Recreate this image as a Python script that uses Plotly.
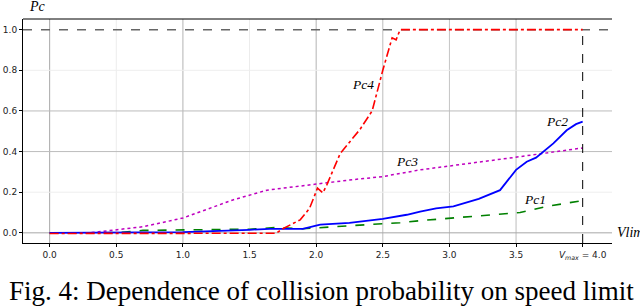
import plotly.graph_objects as go

# ---- data ----
pc1_x = [0, 0.5, 0.7, 1.0, 1.3, 1.5, 1.7, 1.9, 2.13, 2.38, 2.63, 2.78, 3.03, 3.28, 3.53, 3.73, 4.0]
pc1_y = [0, 0.001, 0.012, 0.014, 0.015, 0.018, 0.026, 0.02, 0.03, 0.04, 0.05, 0.06, 0.073, 0.084, 0.1, 0.13, 0.159]

pc2_x = [0, 1.0, 1.5, 1.65, 1.9, 2.03, 2.25, 2.5, 2.68, 2.78, 2.9, 3.03, 3.22, 3.38, 3.5, 3.58, 3.65, 3.78, 3.88, 3.95, 4.0]
pc2_y = [0, 0.004, 0.015, 0.02, 0.02, 0.04, 0.049, 0.069, 0.089, 0.105, 0.12, 0.13, 0.167, 0.21, 0.31, 0.35, 0.37, 0.44, 0.505, 0.535, 0.547]

pc3_x = [0, 0.3, 0.38, 0.5, 0.7, 1.0, 1.13, 1.28, 1.375, 1.63, 1.88, 2.0, 2.25, 2.5, 2.78, 3.02, 3.53, 4.0]
pc3_y = [0, 0.0, 0.006, 0.015, 0.03, 0.073, 0.105, 0.138, 0.162, 0.21, 0.228, 0.24, 0.26, 0.277, 0.31, 0.33, 0.375, 0.418]

pc4_x = [0, 1.0, 1.5, 1.7, 1.75, 1.88, 1.95, 2.01, 2.05, 2.08, 2.18, 2.33, 2.42, 2.5, 2.57, 2.6, 2.63, 4.0]
pc4_y = [-0.003, -0.003, -0.004, -0.002, 0.02, 0.064, 0.12, 0.22, 0.197, 0.236, 0.39, 0.51, 0.6, 0.8, 0.96, 0.95, 1.0, 1.0]

x_ticks = [0.0, 0.5, 1.0, 1.5, 2.0, 2.5, 3.0, 3.5, 4.0]
x_ticklabels = ["0.0", "0.5", "1.0", "1.5", "2.0", "2.5", "3.0", "3.5", "<i>V<sub>max</sub></i> = 4.0"]
y_ticks = [0.0, 0.2, 0.4, 0.6, 0.8, 1.0]
y_ticklabels = ["0.0", "0.2", "0.4", "0.6", "0.8", "1.0"]
x_grid_colors = ["#a8a8a8", "#ececec", "#b4b4b4", "#ececec", "#b4b4b4", "#bcbcbc", "#c4c4c4", "#bcbcbc"]
y_grid_colors = ["#a8a8a8", "#eeeeee", "#bcbcbc", "#bcbcbc", "#eeeeee"]

series_labels = [("<i>Pc1</i>", 3.64, 0.165), ("<i>Pc2</i>", 3.81, 0.55), ("<i>Pc3</i>", 2.68, 0.35), ("<i>Pc4</i>", 2.35, 0.73)]

fig = go.Figure()

# gridlines
for xv, c in zip(x_ticks[:-1], x_grid_colors):
    fig.add_shape(type="line", xref="x", yref="paper", x0=xv, x1=xv, y0=0, y1=1,
                  line=dict(color=c, width=1), layer="below")
for yv, c in zip(y_ticks[:-1], y_grid_colors):
    fig.add_shape(type="line", xref="paper", yref="y", x0=0, x1=1, y0=yv, y1=yv,
                  line=dict(color=c, width=1), layer="below")

fig.add_trace(go.Scatter(x=pc1_x, y=pc1_y, mode="lines", line=dict(color="#008000", width=1.6, dash="dash")))
fig.add_trace(go.Scatter(x=pc3_x, y=pc3_y, mode="lines", line=dict(color="#bf00bf", width=1.5, dash="dot")))
fig.add_trace(go.Scatter(x=pc2_x, y=pc2_y, mode="lines", line=dict(color="#0000ff", width=1.8)))
fig.add_trace(go.Scatter(x=pc4_x, y=pc4_y, mode="lines", line=dict(color="#ff0000", width=1.6, dash="dashdot")))

# reference lines
fig.add_shape(type="line", xref="paper", yref="y", x0=0, x1=1, y0=1.0, y1=1.0,
              line=dict(color="#666666", width=1.5, dash="dash"), layer="below")
fig.add_shape(type="line", xref="x", yref="y", x0=4.0, x1=4.0, y0=-0.05, y1=1.0,
              line=dict(color="black", width=1, dash="dash"))
# top spine
fig.add_shape(type="line", xref="paper", yref="paper", x0=0, x1=1, y0=1, y1=1, line=dict(color="black", width=1))

for txt, xv, yv in series_labels:
    fig.add_annotation(x=xv, y=yv, text=txt, showarrow=False, xanchor="center", yanchor="middle",
                       font=dict(family="Liberation Serif", size=13.5, color="black"))

fig.add_annotation(xref="paper", yref="paper", x=0.025, y=1.015, text="<i>Pc</i>", showarrow=False,
                   xanchor="center", yanchor="bottom", font=dict(family="Liberation Serif", size=14, color="black"))
fig.add_annotation(xref="paper", yref="y", x=1.005, y=0.0, text="<i>Vlim</i>", showarrow=False,
                   xanchor="left", yanchor="middle", font=dict(family="Liberation Serif", size=14, color="black"))
fig.add_annotation(xref="paper", yref="paper", x=0.507, y=-0.14, text="Fig. 4: Dependence of collision probability on speed limit",
                   showarrow=False, xanchor="center", yanchor="top",
                   font=dict(family="Liberation Serif", size=27, color="black"))

fig.update_layout(
    width=640, height=306,
    margin=dict(l=23, r=28, t=19, b=63),
    paper_bgcolor="white", plot_bgcolor="white",
    showlegend=False,
    xaxis=dict(range=[-0.2, 4.22], tickvals=x_ticks, ticktext=x_ticklabels, showgrid=False, zeroline=False,
               automargin=False,
               showline=True, linecolor="black", linewidth=1, ticks="outside", ticklen=3, tickcolor="black",
               tickfont=dict(family="DejaVu Sans", size=9, color="#222222")),
    yaxis=dict(range=[-0.05, 1.0525], tickvals=y_ticks, ticktext=y_ticklabels, showgrid=False, zeroline=False,
               automargin=False,
               showline=True, linecolor="black", linewidth=1, ticks="outside", ticklen=3, tickcolor="black",
               tickfont=dict(family="DejaVu Sans", size=9, color="#222222")),
)

fig.write_html("out.html", config={"displayModeBar": False},
               post_script="document.body.style.margin='0';document.body.style.overflow='hidden';")
